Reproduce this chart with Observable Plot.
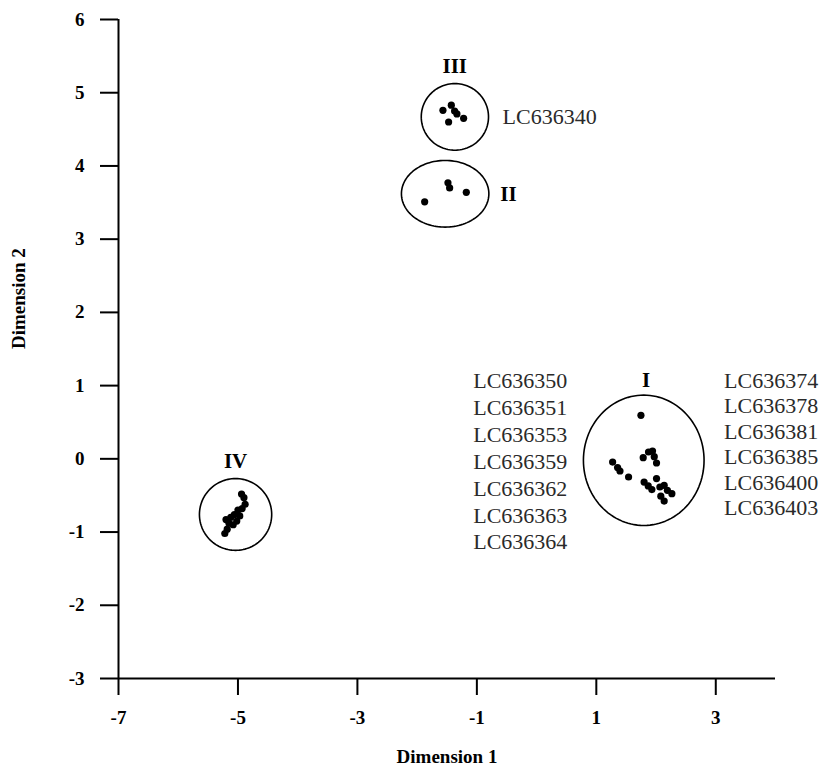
<!DOCTYPE html>
<html><head><meta charset="utf-8">
<script src="https://cdn.jsdelivr.net/npm/d3@7"></script>
<script src="https://cdn.jsdelivr.net/npm/@observablehq/plot@0.6"></script>
<style>html,body{margin:0;padding:0;background:#fff;}</style>
</head><body><div id="chart"></div>
<script>
// ---- data ----
const xTicks = [-7, -5, -3, -1, 1, 3];
const yTicks = [-3, -2, -1, 0, 1, 2, 3, 4, 5, 6];

const groupI_x = [1.747, 1.785, 1.874, 1.941, 1.970, 2.008, 1.273, 1.356, 1.396, 1.540, 1.800, 1.869, 1.930, 2.008, 2.064, 2.136, 2.190, 2.265, 2.080, 2.136];
const groupI_y = [0.594, 0.016, 0.093, 0.107, 0.030, -0.057, -0.044, -0.120, -0.166, -0.248, -0.317, -0.370, -0.420, -0.270, -0.385, -0.362, -0.430, -0.476, -0.510, -0.577];
const groupII_x = [-1.874, -1.484, -1.456, -1.177];
const groupII_y = [3.51, 3.77, 3.70, 3.64];
const groupIII_x = [-1.568, -1.428, -1.373, -1.334, -1.473, -1.222];
const groupIII_y = [4.76, 4.83, 4.75, 4.71, 4.60, 4.65];
const groupIV_x = [-4.94, -4.90, -4.88, -4.93, -5.00, -4.97, -5.06, -5.12, -5.20, -5.15, -5.08, -5.18, -5.22, -5.02];
const groupIV_y = [-0.48, -0.53, -0.62, -0.68, -0.70, -0.78, -0.76, -0.80, -0.83, -0.88, -0.90, -0.96, -1.02, -0.85];

// enclosing ellipses: centre and radii in data units
const encName = ["I", "II", "III", "IV"];
const encCx = [1.794, -1.531, -1.368, -5.04];
const encCy = [-0.02, 3.62, 4.67, -0.76];
const encRx = [1.01, 0.732, 0.563, 0.605];
const encRy = [0.89, 0.455, 0.455, 0.49];

// group labels
const romanText = ["I", "II", "III", "IV"];
const romanX = [1.835, -0.47, -1.37, -5.04];
const romanY = [1.07, 3.61, 5.36, -0.034];

// accession labels
const accLeft = ["LC636350", "LC636351", "LC636353", "LC636359", "LC636362", "LC636363", "LC636364"];
const accRight = ["LC636374", "LC636378", "LC636381", "LC636385", "LC636400", "LC636403"];
const accIII = ["LC636340"];
const accLeftPos = [0.515, -0.02];
const accRightPos = [3.139, 0.21];
const accIIIPos = [-0.57, 4.68];

// ---- build tables ----
const points = [
  ...groupI_x.map((x, i) => ({x, y: groupI_y[i]})),
  ...groupII_x.map((x, i) => ({x, y: groupII_y[i]})),
  ...groupIII_x.map((x, i) => ({x, y: groupIII_y[i]})),
  ...groupIV_x.map((x, i) => ({x, y: groupIV_y[i]}))
];
const outline = encName.flatMap((id, k) =>
  d3.range(0, 360, 3).map(a => ({
    id,
    x: encCx[k] + encRx[k] * Math.cos(a * Math.PI / 180),
    y: encCy[k] + encRy[k] * Math.sin(a * Math.PI / 180)
  })));
const romans = romanText.map((t, i) => ({t, x: romanX[i], y: romanY[i]}));
const accEnd = [{t: accLeft.join("\n"), x: accLeftPos[0], y: accLeftPos[1]}];
const accStart = [
  {t: accRight.join("\n"), x: accRightPos[0], y: accRightPos[1]},
  {t: accIII.join("\n"), x: accIIIPos[0], y: accIIIPos[1]}
];

const serif = "'Liberation Serif', 'Times New Roman', Times, serif";
const accStyle = {x: "x", y: "y", text: "t", fontSize: 22, fontWeight: "normal", fill: "#2a2a2a"};

const chart = Plot.plot({
  width: 827,
  height: 776,
  marginLeft: 118,
  marginRight: 52,
  marginTop: 19,
  marginBottom: 98,
  x: {domain: [-7, 4]},
  y: {domain: [-3, 6]},
  style: {fontFamily: serif, background: "#fff", color: "#000", overflow: "visible"},
  marks: [
    Plot.axisY({ticks: yTicks, tickSize: 18, tickPadding: 16, tickFormat: d => String(d), label: null,
      fontSize: 19, fontWeight: "bold", strokeWidth: 2, fill: "#000"}),
    Plot.axisX({ticks: xTicks, tickSize: 17, tickPadding: 15, tickFormat: d => String(d), label: null,
      fontSize: 19, fontWeight: "bold", strokeWidth: 2, fill: "#000"}),
    Plot.ruleX([-7], {y1: -3, y2: 6, stroke: "#000", strokeWidth: 2}),
    Plot.ruleY([-3], {x1: -7, x2: 4, stroke: "#000", strokeWidth: 2}),
    Plot.line(outline, {x: "x", y: "y", z: "id", curve: "linear-closed", stroke: "#000", strokeWidth: 1.6}),
    Plot.dot(points, {x: "x", y: "y", r: 3.6, fill: "#000", stroke: null}),
    Plot.text(romans, {x: "x", y: "y", text: "t", fontSize: 21, fontWeight: "bold", fill: "#000"}),
    Plot.text(accEnd, {...accStyle, lineHeight: 1.22, textAnchor: "end"}),
    Plot.text(accStart, {...accStyle, lineHeight: 1.16, textAnchor: "start"}),
    Plot.text(["Dimension 1"], {frameAnchor: "bottom", dy: 84, fontSize: 19, fontWeight: "bold", fill: "#000"}),
    Plot.text(["Dimension 2"], {frameAnchor: "left", dx: -100, rotate: -90, fontSize: 19, fontWeight: "bold", fill: "#000"})
  ]
});
document.getElementById("chart").appendChild(chart);
</script>
</body></html>
